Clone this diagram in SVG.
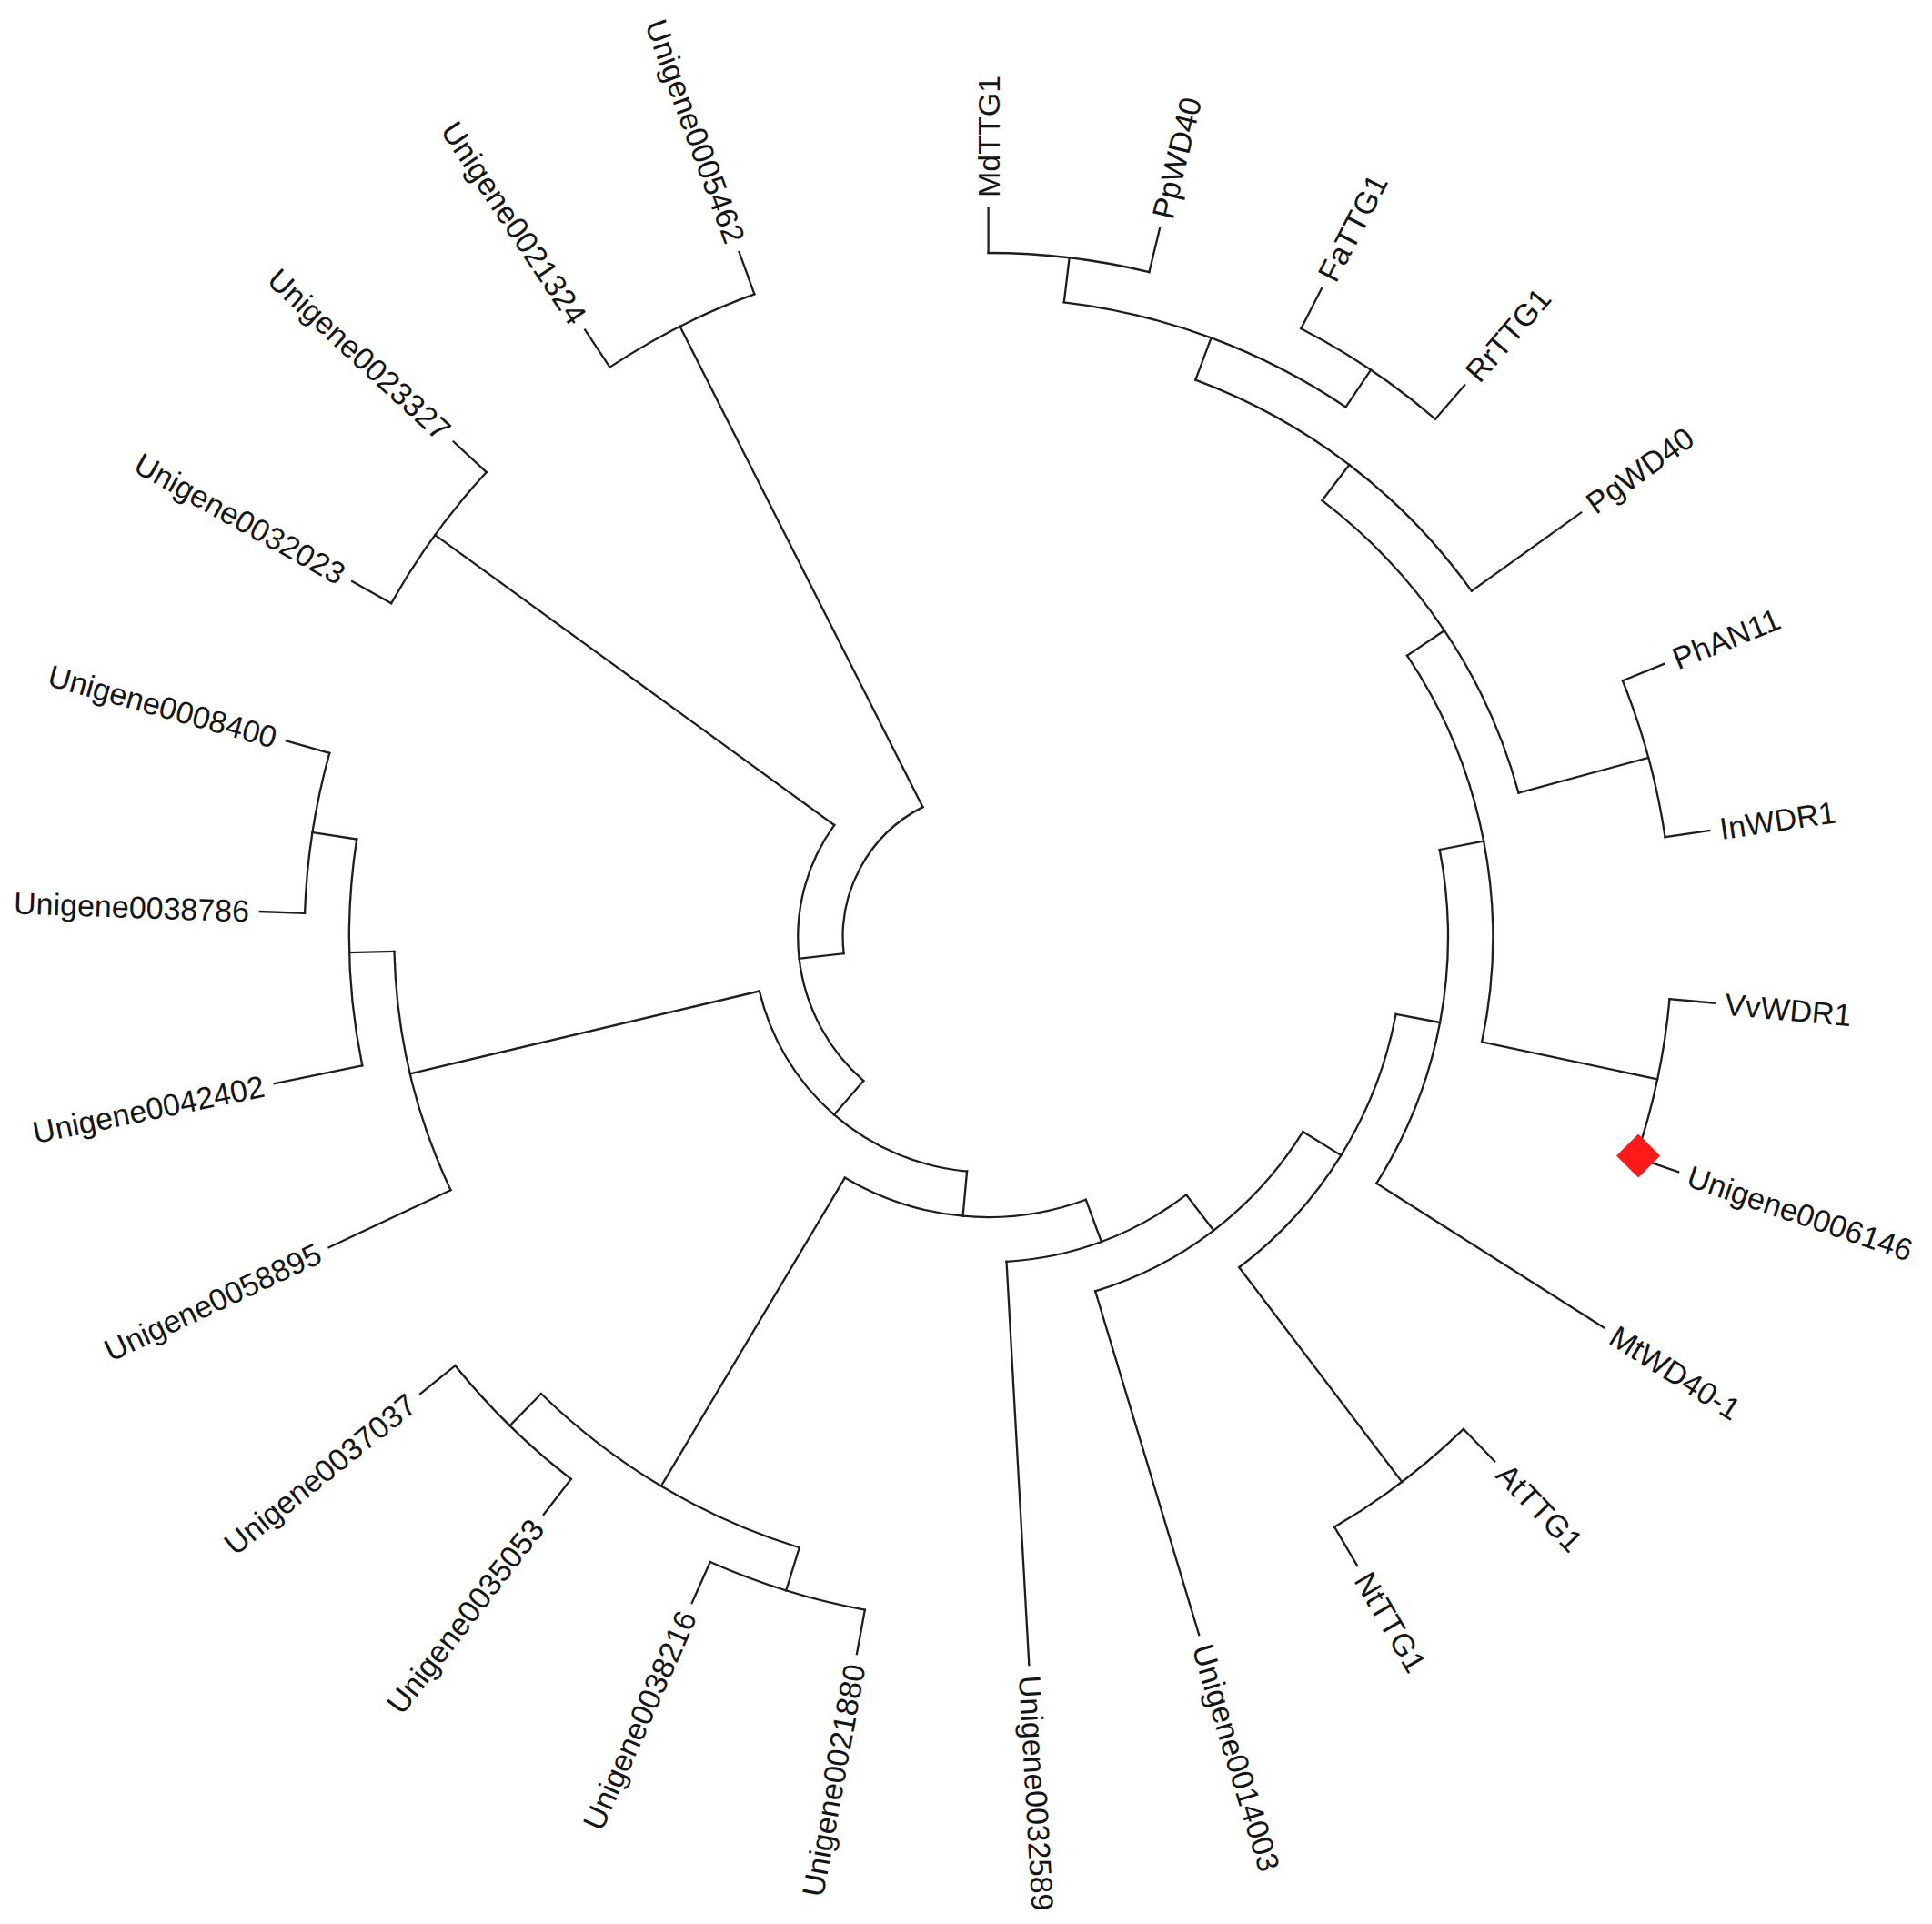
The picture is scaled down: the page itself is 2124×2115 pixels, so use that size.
<svg xmlns="http://www.w3.org/2000/svg" width="2124" height="2115" viewBox="0 0 2124 2115">
<style>
.br{fill:none;stroke:#1e1e1e;stroke-width:2.3;stroke-linecap:square}
.lb{font-family:"Liberation Sans",Arial,sans-serif;font-size:34px;fill:#151515}
.e{text-anchor:end}
</style>
<rect width="2124" height="2115" fill="#ffffff"/>
<g transform="translate(1086.6 1030)">
<g id="connectors" class="br">
<circle r="752" transform="rotate(-90)" stroke-dasharray="178.5 9999"/>
<circle r="752" transform="rotate(-62.8)" stroke-dasharray="178.5 9999"/>
<circle r="752" transform="rotate(-22)" stroke-dasharray="178.5 9999"/>
<circle r="752" transform="rotate(5.2)" stroke-dasharray="178.5 9999"/>
<circle r="752" transform="rotate(46)" stroke-dasharray="178.5 9999"/>
<circle r="752" transform="rotate(100.4)" stroke-dasharray="178.5 9999"/>
<circle r="752" transform="rotate(127.6)" stroke-dasharray="178.5 9999"/>
<circle r="752" transform="rotate(182)" stroke-dasharray="178.5 9999"/>
<circle r="752" transform="rotate(209.2)" stroke-dasharray="178.5 9999"/>
<circle r="752" transform="rotate(236.4)" stroke-dasharray="178.5 9999"/>
<circle r="702.67" transform="rotate(-83.2)" stroke-dasharray="333.58 9999"/>
<circle r="653.33" transform="rotate(-69.6)" stroke-dasharray="387.7 9999"/>
<circle r="604" transform="rotate(-52.6)" stroke-dasharray="394.26 9999"/>
<circle r="554.67" transform="rotate(-33.9)" stroke-dasharray="444.35 9999"/>
<circle r="505.33" transform="rotate(-10.95)" stroke-dasharray="382.33 9999"/>
<circle r="456" transform="rotate(10.725)" stroke-dasharray="334.86 9999"/>
<circle r="406.67" transform="rotate(31.7625)" stroke-dasharray="294.11 9999"/>
<circle r="357.33" transform="rotate(52.48125)" stroke-dasharray="214.03 9999"/>
<circle r="702.67" transform="rotate(107.2)" stroke-dasharray="333.58 9999"/>
<circle r="308" transform="rotate(69.640625)" stroke-dasharray="275.01 9999"/>
<circle r="702.67" transform="rotate(168.4)" stroke-dasharray="250.18 9999"/>
<circle r="653.33" transform="rotate(154.8)" stroke-dasharray="271.38 9999"/>
<circle r="258.67" transform="rotate(95.2203)" stroke-dasharray="322.71 9999"/>
<circle r="209.33" transform="rotate(130.9602)" stroke-dasharray="310.7 9999"/>
<circle r="160" transform="rotate(173.4801)" stroke-dasharray="194.69 9999"/>
<line x1="702.67" x2="752" transform="rotate(-83.2)"/>
<line x1="702.67" x2="752" transform="rotate(-56)"/>
<line x1="653.33" x2="702.67" transform="rotate(-69.6)"/>
<line x1="604" x2="653.33" transform="rotate(-52.6)"/>
<line x1="604" x2="752" transform="rotate(-15.2)"/>
<line x1="554.67" x2="604" transform="rotate(-33.9)"/>
<line x1="554.67" x2="752" transform="rotate(12)"/>
<line x1="505.33" x2="554.67" transform="rotate(-10.95)"/>
<line x1="456" x2="505.33" transform="rotate(10.725)"/>
<line x1="456" x2="752" transform="rotate(52.8)"/>
<line x1="406.67" x2="456" transform="rotate(31.7625)"/>
<line x1="357.33" x2="406.67" transform="rotate(52.48125)"/>
<line x1="308" x2="357.33" transform="rotate(69.640625)"/>
<line x1="308" x2="702.67" transform="rotate(120.8)"/>
<line x1="702.67" x2="752" transform="rotate(107.2)"/>
<line x1="702.67" x2="752" transform="rotate(134.4)"/>
<line x1="258.67" x2="308" transform="rotate(95.2203)"/>
<line x1="258.67" x2="653.33" transform="rotate(166.7)"/>
<line x1="653.33" x2="702.67" transform="rotate(178.6)"/>
<line x1="702.67" x2="752" transform="rotate(188.8)"/>
<line x1="209.33" x2="258.67" transform="rotate(130.9602)"/>
<line x1="209.33" x2="752" transform="rotate(216)"/>
<line x1="160" x2="209.33" transform="rotate(173.4801)"/>
<line x1="160" x2="752" transform="rotate(243.2)"/>
</g>
<g id="leaf-MdTTG1" transform="rotate(-90)"><line class="br" x1="752" x2="801.33"/><text class="lb" x="813" dy="0.35em">MdTTG1</text></g>
<g id="leaf-PpWD40" transform="rotate(-76.4)"><line class="br" x1="752" x2="801.33"/><text class="lb" x="813" dy="0.35em">PpWD40</text></g>
<g id="leaf-FaTTG1" transform="rotate(-62.8)"><line class="br" x1="752" x2="801.33"/><text class="lb" x="813" dy="0.35em">FaTTG1</text></g>
<g id="leaf-RrTTG1" transform="rotate(-49.2)"><line class="br" x1="752" x2="801.33"/><text class="lb" x="813" dy="0.35em">RrTTG1</text></g>
<g id="leaf-PgWD40" transform="rotate(-35.6)"><line class="br" x1="653.33" x2="801.33"/><text class="lb" x="813" dy="0.35em">PgWD40</text></g>
<g id="leaf-PhAN11" transform="rotate(-22)"><line class="br" x1="752" x2="801.33"/><text class="lb" x="813" dy="0.35em">PhAN11</text></g>
<g id="leaf-InWDR1" transform="rotate(-8.4)"><line class="br" x1="752" x2="801.33"/><text class="lb" x="813" dy="0.35em">InWDR1</text></g>
<g id="leaf-VvWDR1" transform="rotate(5.2)"><line class="br" x1="752" x2="801.33"/><text class="lb" x="813" dy="0.35em">VvWDR1</text></g>
<g id="leaf-Unigene0006146" transform="rotate(18.8)"><line class="br" x1="752" x2="801.33"/><text class="lb" x="813" dy="0.35em">Unigene0006146</text></g>
<g id="leaf-MtWD40-1" transform="rotate(32.4)"><line class="br" x1="505.33" x2="801.33"/><text class="lb" x="813" dy="0.35em">MtWD40-1</text></g>
<g id="leaf-AtTTG1" transform="rotate(46)"><line class="br" x1="752" x2="801.33"/><text class="lb" x="813" dy="0.35em">AtTTG1</text></g>
<g id="leaf-NtTTG1" transform="rotate(59.6)"><line class="br" x1="752" x2="801.33"/><text class="lb" x="813" dy="0.35em">NtTTG1</text></g>
<g id="leaf-Unigene0014003" transform="rotate(73.2)"><line class="br" x1="406.67" x2="801.33"/><text class="lb" x="813" dy="0.35em">Unigene0014003</text></g>
<g id="leaf-Unigene0032589" transform="rotate(86.8)"><line class="br" x1="357.33" x2="801.33"/><text class="lb" x="813" dy="0.35em">Unigene0032589</text></g>
<g id="leaf-Unigene0021880" transform="rotate(100.4)"><line class="br" x1="752" x2="801.33"/><text class="lb e" transform="translate(813 0) rotate(180)" dy="0.35em">Unigene0021880</text></g>
<g id="leaf-Unigene0038216" transform="rotate(114)"><line class="br" x1="752" x2="801.33"/><text class="lb e" transform="translate(813 0) rotate(180)" dy="0.35em">Unigene0038216</text></g>
<g id="leaf-Unigene0035053" transform="rotate(127.6)"><line class="br" x1="752" x2="801.33"/><text class="lb e" transform="translate(813 0) rotate(180)" dy="0.35em">Unigene0035053</text></g>
<g id="leaf-Unigene0037037" transform="rotate(141.2)"><line class="br" x1="752" x2="801.33"/><text class="lb e" transform="translate(813 0) rotate(180)" dy="0.35em">Unigene0037037</text></g>
<g id="leaf-Unigene0058895" transform="rotate(154.8)"><line class="br" x1="653.33" x2="801.33"/><text class="lb e" transform="translate(813 0) rotate(180)" dy="0.35em">Unigene0058895</text></g>
<g id="leaf-Unigene0042402" transform="rotate(168.4)"><line class="br" x1="702.67" x2="801.33"/><text class="lb e" transform="translate(813 0) rotate(180)" dy="0.35em">Unigene0042402</text></g>
<g id="leaf-Unigene0038786" transform="rotate(182)"><line class="br" x1="752" x2="801.33"/><text class="lb e" transform="translate(813 0) rotate(180)" dy="0.35em">Unigene0038786</text></g>
<g id="leaf-Unigene0008400" transform="rotate(195.6)"><line class="br" x1="752" x2="801.33"/><text class="lb e" transform="translate(813 0) rotate(180)" dy="0.35em">Unigene0008400</text></g>
<g id="leaf-Unigene0032023" transform="rotate(209.2)"><line class="br" x1="752" x2="801.33"/><text class="lb e" transform="translate(813 0) rotate(180)" dy="0.35em">Unigene0032023</text></g>
<g id="leaf-Unigene0023327" transform="rotate(222.8)"><line class="br" x1="752" x2="801.33"/><text class="lb e" transform="translate(813 0) rotate(180)" dy="0.35em">Unigene0023327</text></g>
<g id="leaf-Unigene0021324" transform="rotate(236.4)"><line class="br" x1="752" x2="801.33"/><text class="lb e" transform="translate(813 0) rotate(180)" dy="0.35em">Unigene0021324</text></g>
<g id="leaf-Unigene0005462" transform="rotate(250)"><line class="br" x1="752" x2="801.33"/><text class="lb e" transform="translate(813 0) rotate(180)" dy="0.35em">Unigene0005462</text></g>
<g id="marker-Unigene0006146"><polygon points="714.5,216.5 738.5,240.5 714.5,264.5 690.5,240.5" fill="#ff1a1a"/></g>
</g>
</svg>
